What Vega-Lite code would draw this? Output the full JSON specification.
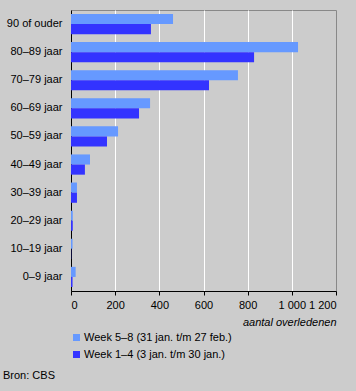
{
  "$schema": "https://vega.github.io/schema/vega-lite/v6.json",
  "width": 265,
  "height": 281,
  "autosize": {"type": "none"},
  "padding": {"left": 71, "top": 10, "right": 20, "bottom": 100},
  "background": "#cccccc",
  "config": {
    "font": "Liberation Sans",
    "view": {"stroke": "#888888", "strokeWidth": 1},
    "axis": {"labelFont": "Liberation Sans", "titleFont": "Liberation Sans", "labelColor": "black", "titleColor": "black", "labelFontSize": 11, "titleFontSize": 11}
  },
  "title": {"text": "Bron: CBS", "orient": "bottom", "anchor": "start", "frame": "group", "dx": -68, "fontSize": 11, "fontWeight": "normal", "font": "Liberation Sans", "color": "black", "offset": 10},
  "data": {"values": [
    {"age": "90 of ouder", "week": "Week 5–8 (31 jan. t/m 27 feb.)", "n": 462},
    {"age": "90 of ouder", "week": "Week 1–4 (3 jan. t/m 30 jan.)", "n": 362},
    {"age": "80–89 jaar", "week": "Week 5–8 (31 jan. t/m 27 feb.)", "n": 1028},
    {"age": "80–89 jaar", "week": "Week 1–4 (3 jan. t/m 30 jan.)", "n": 829},
    {"age": "70–79 jaar", "week": "Week 5–8 (31 jan. t/m 27 feb.)", "n": 756},
    {"age": "70–79 jaar", "week": "Week 1–4 (3 jan. t/m 30 jan.)", "n": 625},
    {"age": "60–69 jaar", "week": "Week 5–8 (31 jan. t/m 27 feb.)", "n": 358},
    {"age": "60–69 jaar", "week": "Week 1–4 (3 jan. t/m 30 jan.)", "n": 308},
    {"age": "50–59 jaar", "week": "Week 5–8 (31 jan. t/m 27 feb.)", "n": 213},
    {"age": "50–59 jaar", "week": "Week 1–4 (3 jan. t/m 30 jan.)", "n": 163},
    {"age": "40–49 jaar", "week": "Week 5–8 (31 jan. t/m 27 feb.)", "n": 86},
    {"age": "40–49 jaar", "week": "Week 1–4 (3 jan. t/m 30 jan.)", "n": 63},
    {"age": "30–39 jaar", "week": "Week 5–8 (31 jan. t/m 27 feb.)", "n": 27},
    {"age": "30–39 jaar", "week": "Week 1–4 (3 jan. t/m 30 jan.)", "n": 27},
    {"age": "20–29 jaar", "week": "Week 5–8 (31 jan. t/m 27 feb.)", "n": 8},
    {"age": "20–29 jaar", "week": "Week 1–4 (3 jan. t/m 30 jan.)", "n": 8},
    {"age": "10–19 jaar", "week": "Week 5–8 (31 jan. t/m 27 feb.)", "n": 7},
    {"age": "10–19 jaar", "week": "Week 1–4 (3 jan. t/m 30 jan.)", "n": 1},
    {"age": "0–9 jaar", "week": "Week 5–8 (31 jan. t/m 27 feb.)", "n": 21},
    {"age": "0–9 jaar", "week": "Week 1–4 (3 jan. t/m 30 jan.)", "n": 7}
  ]},
  "mark": {"type": "bar"},
  "encoding": {
    "y": {
      "field": "age", "type": "nominal", "sort": null,
      "scale": {"paddingInner": 0.28, "paddingOuter": 0.14},
      "axis": {"title": null, "ticks": false, "domainColor": "black", "labelPadding": 9, "grid": false}
    },
    "yOffset": {"field": "week", "type": "nominal", "sort": ["Week 5–8 (31 jan. t/m 27 feb.)", "Week 1–4 (3 jan. t/m 30 jan.)"], "scale": {"paddingInner": 0, "paddingOuter": 0}},
    "x": {
      "field": "n", "type": "quantitative",
      "scale": {"domain": [0, 1200], "nice": false},
      "axis": {
        "values": [0, 200, 400, 600, 800, 1000, 1200],
        "title": "aantal overledenen", "titleFontStyle": "italic", "titleFontWeight": "normal",
        "titleAnchor": "end", "titlePadding": 6,
        "labelExpr": "replace(format(datum.value, ','), ',', ' ')",
        "domainColor": "black", "tickColor": "black", "tickSize": 4,
        "labelPadding": 4,
        "gridColor": {"condition": {"test": "datum.value === 1200 || datum.value === 0", "value": "transparent"}, "value": "white"},
        "gridOpacity": 1
      }
    },
    "color": {
      "field": "week", "type": "nominal",
      "sort": ["Week 5–8 (31 jan. t/m 27 feb.)", "Week 1–4 (3 jan. t/m 30 jan.)"],
      "scale": {"range": ["#6699ff", "#3333ff"]},
      "legend": {"title": null, "orient": "none", "legendX": 0, "legendY": 322, "symbolType": "square", "symbolSize": 49, "symbolStrokeWidth": 0, "labelFontSize": 11, "labelFont": "Liberation Sans", "labelColor": "black", "rowPadding": 5, "labelOffset": 2}
    }
  }
}
